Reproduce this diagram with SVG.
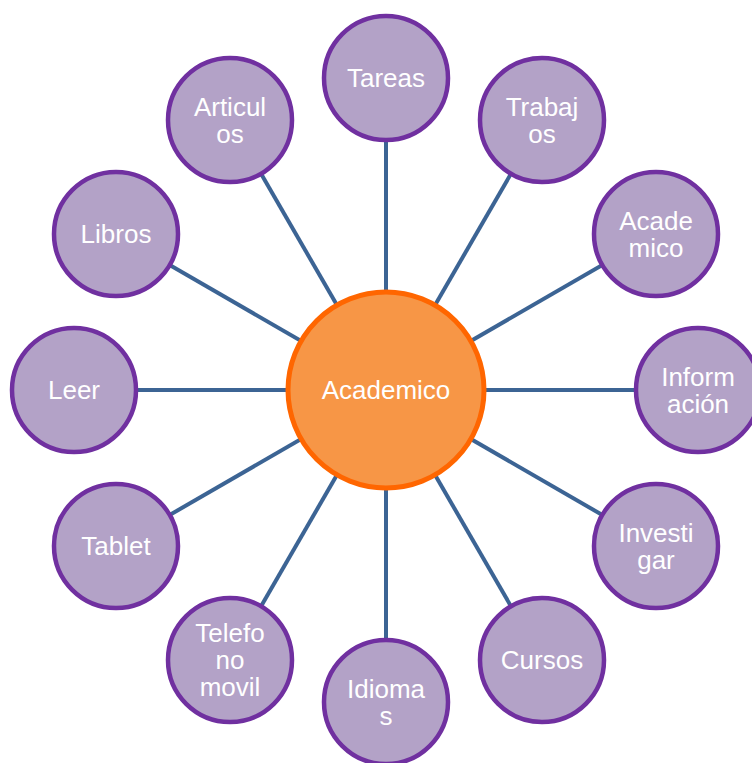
<svg xmlns="http://www.w3.org/2000/svg" width="752" height="763" viewBox="0 0 752 763">
<style>
.c{fill:#B3A2C7;stroke:#7030A0;stroke-width:4.5}
.m{fill:#F79646;stroke:#FF6600;stroke-width:5}
.t{font-family:"Liberation Sans",Arial,sans-serif;font-size:26px;fill:#FFFFFF;text-anchor:middle}
#connectors line{stroke:#3C6494;stroke-width:4}
</style>
<rect width="752" height="763" fill="#FFFFFF"/>
<g id="connectors">
<line x1="386" y1="390" x2="386" y2="78"/>
<line x1="386" y1="390" x2="542" y2="120"/>
<line x1="386" y1="390" x2="656" y2="234"/>
<line x1="386" y1="390" x2="698" y2="390"/>
<line x1="386" y1="390" x2="656" y2="546"/>
<line x1="386" y1="390" x2="542" y2="660"/>
<line x1="386" y1="390" x2="386" y2="702"/>
<line x1="386" y1="390" x2="230" y2="660"/>
<line x1="386" y1="390" x2="116" y2="546"/>
<line x1="386" y1="390" x2="74" y2="390"/>
<line x1="386" y1="390" x2="116" y2="234"/>
<line x1="386" y1="390" x2="230" y2="120"/>
</g>
<g id="center"><circle class="m" cx="386" cy="390" r="98"/><text class="t" x="386" y="399">Academico</text></g>
<g id="tareas"><circle class="c" cx="386" cy="78" r="62"/><text class="t" x="386" y="87">Tareas</text></g>
<g id="trabajos"><circle class="c" cx="542" cy="120" r="62"/><text class="t" x="542" y="115.5">Trabaj</text><text class="t" x="542" y="142.5">os</text></g>
<g id="academico2"><circle class="c" cx="656" cy="234" r="62"/><text class="t" x="656" y="229.5">Acade</text><text class="t" x="656" y="256.5">mico</text></g>
<g id="informacion"><circle class="c" cx="698" cy="390" r="62"/><text class="t" x="698" y="385.5">Inform</text><text class="t" x="698" y="412.5">ación</text></g>
<g id="investigar"><circle class="c" cx="656" cy="546" r="62"/><text class="t" x="656" y="541.5">Investi</text><text class="t" x="656" y="568.5">gar</text></g>
<g id="cursos"><circle class="c" cx="542" cy="660" r="62"/><text class="t" x="542" y="669">Cursos</text></g>
<g id="idiomas"><circle class="c" cx="386" cy="702" r="62"/><text class="t" x="386" y="697.5">Idioma</text><text class="t" x="386" y="724.5">s</text></g>
<g id="telefono"><circle class="c" cx="230" cy="660" r="62"/><text class="t" x="230" y="642">Telefo</text><text class="t" x="230" y="669">no</text><text class="t" x="230" y="696">movil</text></g>
<g id="tablet"><circle class="c" cx="116" cy="546" r="62"/><text class="t" x="116" y="555">Tablet</text></g>
<g id="leer"><circle class="c" cx="74" cy="390" r="62"/><text class="t" x="74" y="399">Leer</text></g>
<g id="libros"><circle class="c" cx="116" cy="234" r="62"/><text class="t" x="116" y="243">Libros</text></g>
<g id="articulos"><circle class="c" cx="230" cy="120" r="62"/><text class="t" x="230" y="115.5">Articul</text><text class="t" x="230" y="142.5">os</text></g>
</svg>
